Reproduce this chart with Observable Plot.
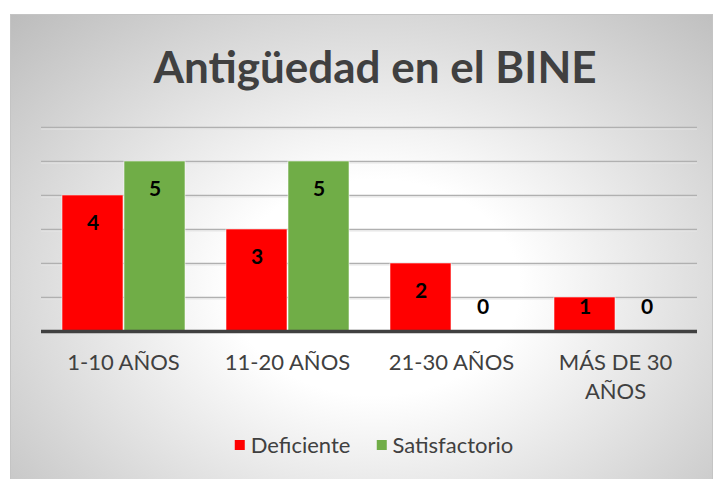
<!DOCTYPE html>
<html>
<head>
<meta charset="utf-8">
<script src="https://cdn.jsdelivr.net/npm/d3@7"></script>
<script src="https://cdn.jsdelivr.net/npm/@observablehq/plot@0.6"></script>
<style>
  html, body { margin: 0; padding: 0; background: #ffffff; }
  body { width: 717px; height: 479px; position: relative; overflow: hidden; font-family: Lato, "Open Sans", sans-serif; }
  #box {
    position: absolute; left: 10px; top: 14px; width: 701px; height: 470px;
    border: 1px solid #c4c4c4; border-bottom: none;
    background: radial-gradient(ellipse farthest-corner at 52% 58%, #ffffff 0%, #ffffff 28%, #bcbcbc 100%);
  }
  #title {
    position: absolute; left: 375px; top: 44px; transform: translateX(-50%);
    font-size: 44px; line-height: 44px; font-weight: 700; color: #404040; white-space: nowrap;
  }
  #chart { position: absolute; left: 0; top: 100px; }
  #legend {
    position: absolute; left: 374px; top: 433px; transform: translateX(-50%);
    display: flex; align-items: center; font-size: 22px; line-height: 24px; color: #404040; white-space: nowrap;
  }
  .sw { display: inline-block; width: 10px; height: 10px; margin-right: 6px; }
  .item { display: flex; align-items: center; margin: 0 13px; }
</style>
</head>
<body>
<div id="box"></div>
<div id="title">Antigüedad en el BINE</div>
<div id="chart"></div>
<div id="legend"></div>
<script>
const categories = ["1-10 AÑOS", "11-20 AÑOS", "21-30 AÑOS", "MÁS DE 30 AÑOS"];
const tickLabels = ["1-10 AÑOS", "11-20 AÑOS", "21-30 AÑOS", "MÁS DE 30\nAÑOS"];
const series = ["Deficiente", "Satisfactorio"];
const colors = ["#ff0000", "#70ad47"];
const deficiente = [4, 3, 2, 1];
const satisfactorio = [5, 5, 0, 0];
const yTicks = [1, 2, 3, 4, 5, 6];

const rows = [];
categories.forEach((c, i) => {
  rows.push({category: c, series: series[0], value: deficiente[i]});
  rows.push({category: c, series: series[1], value: satisfactorio[i]});
});

const chart = Plot.plot({
  width: 717,
  height: 320,
  marginTop: 27,
  marginBottom: 89,
  marginLeft: 40,
  marginRight: 19,
  style: {background: "transparent", fontFamily: "Lato, 'Open Sans', sans-serif", color: "#404040"},
  fx: {domain: categories, padding: 0, label: null},
  x: {domain: series, paddingInner: 0.02, paddingOuter: 0.32, axis: null},
  y: {domain: [0, 6], axis: null},
  color: {domain: series, range: colors},
  marks: [
    Plot.ruleY(yTicks, {stroke: "#b0b0b0", strokeWidth: 1.5}),
    Plot.ruleY(yTicks, {stroke: "#e6e6e6", strokeWidth: 1, dy: 1.5}),
    Plot.barY(rows, {
      filter: d => d.value > 0,
      fx: "category", x: "series", y: "value", fill: "series",
      stroke: "#ffffff", strokeOpacity: 0.55, strokeWidth: 1
    }),
    Plot.ruleY([0], {stroke: "#404040", strokeWidth: 3.5}),
    Plot.text(rows, {
      fx: "category", x: "series",
      y: d => Math.max(d.value - 0.82, 0.7),
      text: d => String(d.value),
      fontSize: 21, fontWeight: "bold", fill: "#000000"
    }),
    Plot.axisFx({
      anchor: "bottom",
      tickSize: 0, tickPadding: 17, fontSize: 22, lineHeight: 1.35,
      fill: "#404040", label: null,
      tickFormat: d => tickLabels[categories.indexOf(d)]
    })
  ]
});
document.getElementById("chart").appendChild(chart);

const legend = document.getElementById("legend");
series.forEach((s, i) => {
  const item = document.createElement("span");
  item.className = "item";
  const sw = document.createElement("span");
  sw.className = "sw";
  sw.style.background = colors[i];
  item.appendChild(sw);
  item.appendChild(document.createTextNode(s));
  legend.appendChild(item);
});
</script>
</body>
</html>
